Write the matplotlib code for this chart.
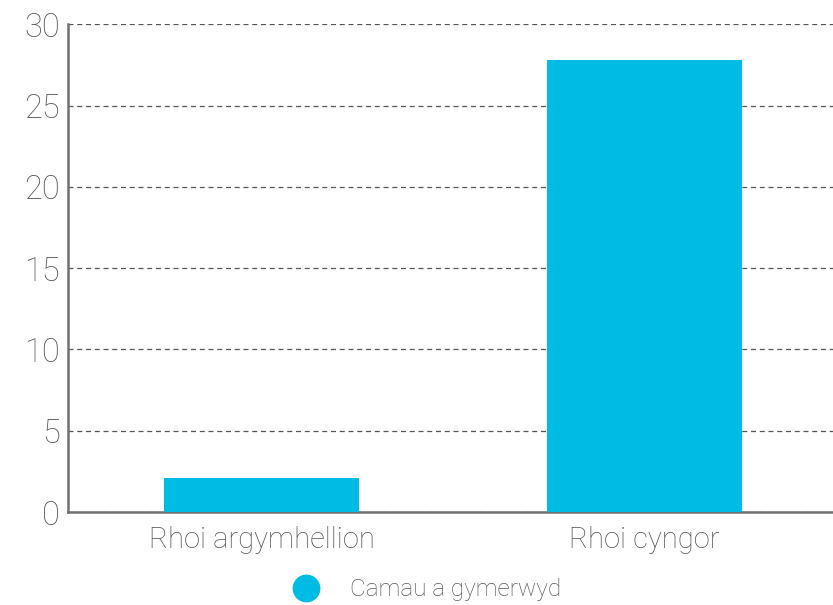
import matplotlib.pyplot as plt
import numpy as np

categories = ['Rhoi argymhellion', 'Rhoi cyngor']
values = [2.1, 27.8]
series_name = 'Camau a gymerwyd'
yticks = [0, 5, 10, 15, 20, 25, 30]

bar_color = '#00BCE4'
axis_color = '#707070'
text_color = '#555555'

plt.rcParams['font.family'] = ['Roboto', 'DejaVu Sans']
plt.rcParams['font.weight'] = 'light'

fig = plt.figure(figsize=(8.33, 6.05), dpi=100)
ax = fig.add_axes([0.0816, 0.1537, 0.9184, 0.8063])

x = np.arange(len(categories))
ax.bar(x, values, width=0.51, color=bar_color, zorder=3, label=series_name)

ax.set_xlim(-0.507, 1.493)
ax.set_ylim(0, 30)
ax.set_yticks(yticks)
ax.set_xticks(x)
ax.set_xticklabels(categories)

# dashed horizontal grid
ax.yaxis.grid(True, linestyle=(0, (4, 3)), color='#555555', linewidth=0.9)
ax.set_axisbelow(True)

for side in ['top', 'right']:
    ax.spines[side].set_visible(False)
for side in ['left', 'bottom']:
    ax.spines[side].set_color(axis_color)
    ax.spines[side].set_linewidth(1.8)

ax.tick_params(axis='both', length=0, colors=text_color)
ax.tick_params(axis='y', pad=6, labelsize=23.5)
ax.tick_params(axis='x', pad=10, labelsize=21)

leg = fig.legend(handles=[plt.Line2D([], [], marker='o', linestyle='', markersize=19,
                                     color=bar_color, label=series_name)],
                 loc='center', bbox_to_anchor=(0.506, 0.025), frameon=False,
                 fontsize=17.5, handletextpad=0.8)
for t in leg.get_texts():
    t.set_color(text_color)

fig.savefig('out.png', dpi=100)
